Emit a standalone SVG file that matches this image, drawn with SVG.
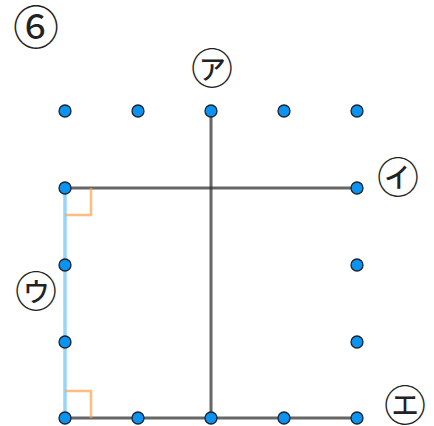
<svg xmlns="http://www.w3.org/2000/svg" width="434" height="426" viewBox="0 0 434 426">
<style>
.ln{stroke:#333;stroke-opacity:0.75;stroke-width:3;fill:none}
.bl{stroke:#7ccbf5;stroke-opacity:0.8;stroke-width:3.5;fill:none}
.ra{stroke:#ffa04a;stroke-opacity:0.7;stroke-width:2.5;fill:none}
.dot{fill:#0a93f0;stroke:#1b2230;stroke-width:1.3}
.lbl{font-family:"Noto Sans CJK JP","DejaVu Sans",sans-serif;fill:#222;text-anchor:middle}
</style>
<rect width="434" height="426" fill="#ffffff"/>
<g id="connectors">
<line class="ln" x1="211" y1="111" x2="211" y2="418"/>
<line class="ln" x1="65" y1="188" x2="357" y2="188"/>
<line class="ln" x1="65" y1="418" x2="357" y2="418"/>
<line class="bl" x1="65" y1="188" x2="65" y2="418"/>
<polyline class="ra" points="65,215 91,215 91,188"/>
<polyline class="ra" points="65,391 91,391 91,418"/>
</g>
<g id="dots">
<circle class="dot" cx="65" cy="111" r="6"/>
<circle class="dot" cx="138" cy="111" r="6"/>
<circle class="dot" cx="211" cy="111" r="6"/>
<circle class="dot" cx="284" cy="111" r="6"/>
<circle class="dot" cx="357" cy="111" r="6"/>
<circle class="dot" cx="65" cy="188" r="6"/>
<circle class="dot" cx="357" cy="188" r="6"/>
<circle class="dot" cx="65" cy="265" r="6"/>
<circle class="dot" cx="357" cy="265" r="6"/>
<circle class="dot" cx="65" cy="342" r="6"/>
<circle class="dot" cx="357" cy="342" r="6"/>
<circle class="dot" cx="65" cy="418" r="6"/>
<circle class="dot" cx="138" cy="418" r="6"/>
<circle class="dot" cx="211" cy="418" r="6"/>
<circle class="dot" cx="284" cy="418" r="6"/>
<circle class="dot" cx="357" cy="418" r="6"/>
</g>
<g id="labels">
<text id="title" class="lbl" x="36" y="44" font-size="46">⑥</text>
<text id="label-a" class="lbl" x="212" y="84" font-size="42">㋐</text>
<text id="label-i" class="lbl" x="398" y="193" font-size="42">㋑</text>
<text id="label-u" class="lbl" x="36" y="307" font-size="42">㋒</text>
<text id="label-e" class="lbl" x="405" y="421" font-size="42">㋓</text>
</g>
</svg>
